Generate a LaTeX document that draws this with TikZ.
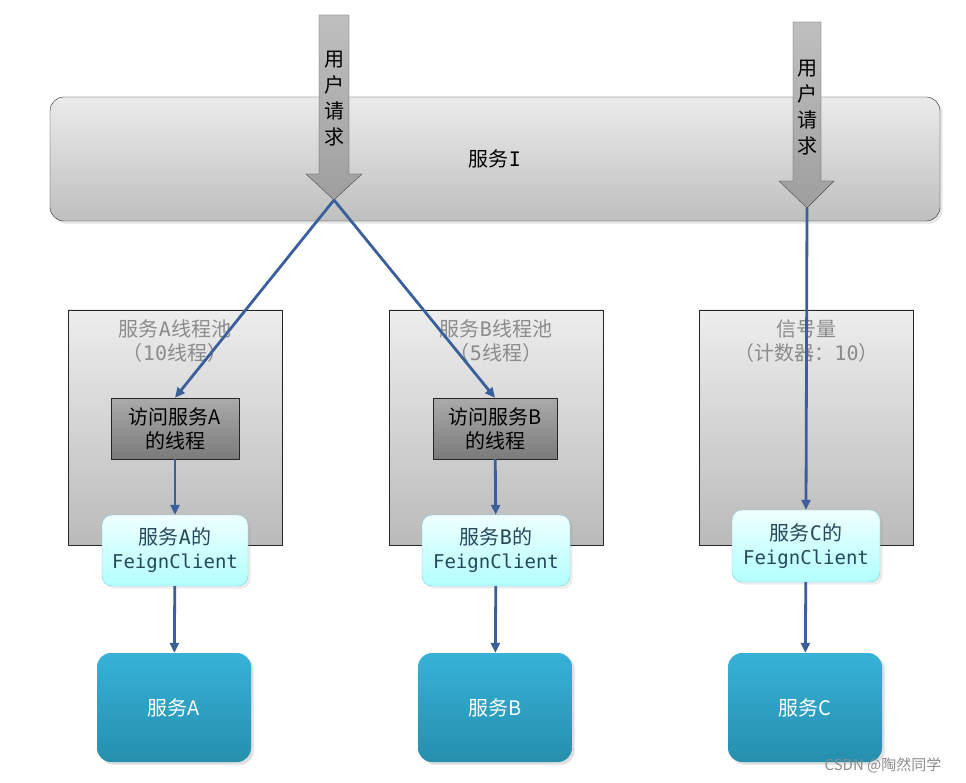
\documentclass[tikz,border=0pt]{standalone}
\usepackage{fontspec}
\setmainfont{Noto Sans CJK SC}
\newfontfamily\mono{DejaVu Sans Mono}
\usepackage{tikz}
\usetikzlibrary{arrows.meta,positioning,shadows}

\definecolor{flow}{HTML}{3A5F9A}
\definecolor{poolgray}{HTML}{8C8C8C}
\definecolor{feigntext}{HTML}{24485C}
\definecolor{svctop}{HTML}{36B2D8}
\definecolor{svcbot}{HTML}{268FAD}
\definecolor{feignedge}{HTML}{7CCFE0}

\begin{document}
\begin{tikzpicture}[x=1pt,y=-1pt,
  txt/.style={font=\fontsize{20}{24}\selectfont},
  bar/.style={draw=black!85,rounded corners=14pt,top color=black!8,bottom color=black!25,
    minimum width=890pt,minimum height=124pt,txt,drop shadow={opacity=0.2}},
  pool/.style={draw=black!85,top color=black!7,bottom color=black!27,
    minimum width=214pt,minimum height=235pt},
  poollabel/.style={txt,text=poolgray,align=center,inner sep=0pt},
  worker/.style={draw=black!85,top color=black!33,bottom color=black!52,
    minimum height=61pt,txt,align=center,inner sep=0pt},
  feign/.style={draw=feignedge,rounded corners=10pt,top color=cyan!6,bottom color=cyan!30,
    minimum width=148pt,minimum height=71pt,txt,text=feigntext,align=center,inner sep=0pt,
    drop shadow={opacity=0.15}},
  svc/.style={rounded corners=14pt,top color=svctop,bottom color=svcbot,
    minimum width=154pt,minimum height=109pt,txt,text=white,drop shadow={opacity=0.25}},
  req/.style={draw=black!70,top color=black!25,bottom color=black!38},
  arrow/.style={-{Triangle[length=10pt,width=9pt]},draw=flow,line width=2.8pt}]

  \useasboundingbox (0,0) rectangle (966,783);

  % service I bar
  \node[bar] (I) at (495,159) {服务{\mono I}};

  % user requests
  \draw[req] (319,15) -- (349,15) -- (349,174) -- (362,174) -- (334,200)
    -- (306,174) -- (319,174) -- cycle;
  \coordinate (tipL) at (334,200);
  \node[txt,align=center,inner sep=0pt,font=\fontsize{20}{26}\selectfont] (reqL) at (334,99)
    {用\\户\\请\\求};
  \draw[req] (793,22) -- (821,22) -- (821,181) -- (834,181) -- (807,208)
    -- (779,181) -- (793,181) -- cycle;
  \coordinate (tipR) at (807,208);
  \node[txt,align=center,inner sep=0pt,font=\fontsize{20}{26}\selectfont] (reqR) at (807,108)
    {用\\户\\请\\求};

  % pools
  \node[pool] (poolA) at (175,427.5) {};
  \node[pool] (poolB) at (496,427.5) {};
  \node[pool] (poolC) at (806.5,427.5) {};
  \node[poollabel,below=10pt of poolA.north] (labA) {服务{\mono A}线程池\\（{\mono 10}线程）};
  \node[poollabel,below=10pt of poolB.north] (labB) {服务{\mono B}线程池\\（{\mono 5}线程）};
  \node[poollabel,below=10pt of poolC.north] (labC) {信号量\\（计数器：{\mono 10}）};

  % threads
  \node[worker,minimum width=128pt] (thrA) at (175,428.5) {访问服务A\\的线程};
  \node[worker,minimum width=124pt] (thrB) at (495,428.5) {访问服务B\\的线程};

  % feign clients
  \node[feign,minimum width=146pt] (feignA) at (175,550.5) {服务{\mono A}的\\{\mono\fontsize{19}{24}\selectfont FeignClient}};
  \node[feign] (feignB) at (496,550.5) {服务{\mono B}的\\{\mono\fontsize{19}{24}\selectfont FeignClient}};
  \node[feign,minimum height=72pt] (feignC) at (806,546) {服务{\mono C}的\\{\mono\fontsize{19}{24}\selectfont FeignClient}};

  % services
  \node[svc] (svcA) at (174,707.5) {服务A};
  \node[svc] (svcB) at (495,707.5) {服务B};
  \node[svc] (svcC) at (805,707.5) {服务C};

  \draw[arrow] (tipL) -- (thrA.north);
  \draw[arrow] (tipL) -- (thrB.north);
  \draw[arrow] (tipR) -- (feignC.north);
  \draw[arrow] (thrA) -- (feignA);
  \draw[arrow] (thrB) -- (feignB);
  \draw[arrow] (feignA) -- (svcA);
  \draw[arrow] (feignB) -- (svcB);
  \draw[arrow] (feignC) -- (svcC);

  \node[text=black!45,font=\fontsize{15}{18}\selectfont] (mark) at (883,765) {CSDN @陶然同学};
\end{tikzpicture}
\end{document}
